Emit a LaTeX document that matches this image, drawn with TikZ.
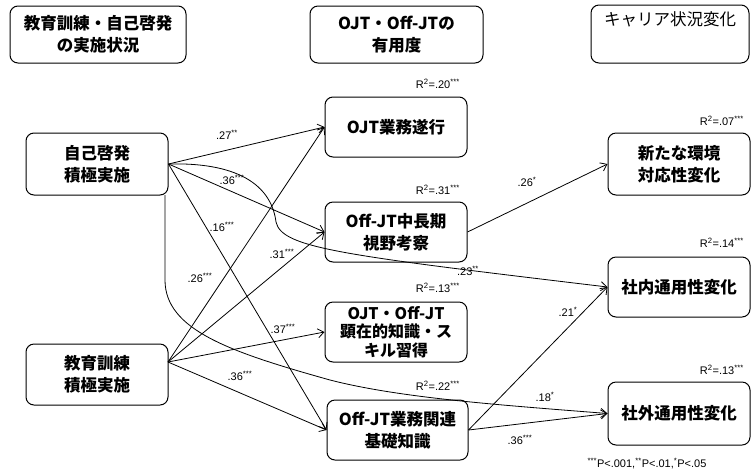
\documentclass[tikz,border=0pt]{standalone}
\usepackage{fontspec}
\setmainfont{Liberation Sans}
\newfontfamily\jp{Noto Sans CJK JP}
\usetikzlibrary{arrows.meta,calc}
\begin{document}
\begin{tikzpicture}[x=1pt,y=-1pt,
  box/.style={draw, line width=1pt, rounded corners=8pt, align=center, inner sep=0pt,
    font=\jp\bfseries\fontsize{16.5}{22}\selectfont},
  conn/.style={line width=0.8pt, -{Straight Barb[length=6pt,width=9pt,line width=0.8pt]}},
  lab/.style={font=\fontsize{11}{13}\selectfont, inner sep=0pt},
  rlab/.style={font=\fontsize{11}{13}\selectfont, inner sep=0pt, anchor=east},
]
\useasboundingbox (0,0) rectangle (752,475);
% headers
\node[box, minimum width=176, minimum height=57] (h1) at (98,34.5) {教育訓練・自己啓発\\の実施状況};
\node[box, minimum width=173, minimum height=57] (h2) at (396.5,34.5) {OJT・Off-JTの\\有用度};
\node[box, minimum width=158, minimum height=58] (h3) at (670,34) {};
\node[font=\jp\fontsize{16.5}{22}\selectfont, anchor=north, inner sep=0pt] (h3t) at (670,11) {キャリア状況変化};
% left
\node[box, minimum width=142, minimum height=62] (a) at (97,164) {自己啓発\\積極実施};
\node[box, minimum width=142, minimum height=61] (b) at (97,374.5) {教育訓練\\積極実施};
% middle
\node[box, minimum width=142, minimum height=60] (m1) at (396,127) {OJT業務遂行};
\node[box, minimum width=142, minimum height=60] (m2) at (396,232) {Off-JT中長期\\視野考察};
\node[box, minimum width=142, minimum height=60, font=\jp\bfseries\fontsize{16}{18.5}\selectfont] (m3) at (396,332) {OJT・Off-JT\\顕在的知識・ス\\キル習得};
\node[box, minimum width=141, minimum height=60] (m4) at (397.5,430) {Off-JT業務関連\\基礎知識};
% right
\node[box, minimum width=142, minimum height=62] (r1) at (679,164) {新たな環境\\対応性変化};
\node[box, minimum width=142, minimum height=60] (r2) at (679,287) {社内通用性変化};
\node[box, minimum width=142, minimum height=63] (r3) at (679,413.5) {社外通用性変化};
% R2 labels
\node[rlab] (q1) at (460,84) {R\textsuperscript{2}=.20\textsuperscript{***}};
\node[rlab] (q2) at (460,190) {R\textsuperscript{2}=.31\textsuperscript{***}};
\node[rlab] (q3) at (460,288) {R\textsuperscript{2}=.13\textsuperscript{***}};
\node[rlab] (q4) at (460,386) {R\textsuperscript{2}=.22\textsuperscript{***}};
\node[rlab] (q5) at (744,121) {R\textsuperscript{2}=.07\textsuperscript{***}};
\node[rlab] (q6) at (744,243) {R\textsuperscript{2}=.14\textsuperscript{***}};
\node[rlab] (q7) at (744,370) {R\textsuperscript{2}=.13\textsuperscript{***}};
% origins
\coordinate (bo) at (168,362);
\coordinate (ad) at (165,195);
% connectors from a
\draw[conn] (a.east) -- (m1.west);
\draw[conn] (a.east) -- (m2.west);
\draw[conn] (a.east) -- (m4.west);
\draw[conn] (a.east) .. controls (245,162) and (272,190) .. (276,222)
   .. controls (282,248) and (340,255) .. (r2.west);
\draw[conn] (ad) -- (165,280) .. controls (165,330) and (230,352) .. (330,380)
   .. controls (400,398) and (500,405) .. (r3.west);
% connectors from b
\draw[conn] (bo) -- (m1.west);
\draw[conn] (bo) -- (m2.west);
\draw[conn] (bo) -- (m3.west);
\draw[conn] (bo) -- (m4.west);
% middle to right
\draw[conn] (m2.east) -- (r1.west);
\draw[conn] (m4.east) -- (r2.west);
\draw[conn] (m4.east) -- (r3.west);
% path labels
\node[lab] (l1) at (227,135) {.27\textsuperscript{**}};
\node[lab] (l2) at (232,180) {.36\textsuperscript{***}};
\node[lab] (l3) at (222,227) {.16\textsuperscript{***}};
\node[lab] (l4) at (282,254) {.31\textsuperscript{***}};
\node[lab] (l5) at (200,278) {.26\textsuperscript{***}};
\node[lab] (l6) at (283,329) {.37\textsuperscript{***}};
\node[lab] (l7) at (240,376) {.36\textsuperscript{***}};
\node[lab] (l8) at (527,182) {.26\textsuperscript{*}};
\node[lab] (l9) at (468,271) {.23\textsuperscript{**}};
\node[lab] (l10) at (568,312) {.21\textsuperscript{*}};
\node[lab] (l11) at (545,397) {.18\textsuperscript{*}};
\node[lab] (l12) at (520,440) {.36\textsuperscript{***}};
\node[lab] (fn) at (647,464) {\textsuperscript{***}P<.001,\textsuperscript{**}P<.01,\textsuperscript{*}P<.05};
\end{tikzpicture}
\end{document}
